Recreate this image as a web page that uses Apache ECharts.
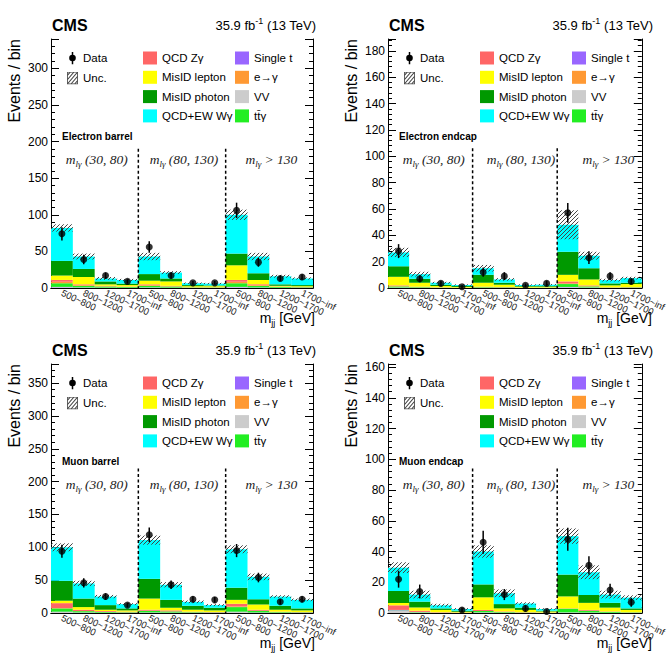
<!DOCTYPE html>
<html><head><meta charset="utf-8">
<script src="https://cdn.jsdelivr.net/npm/echarts@6/dist/echarts.min.js"></script>
<style>html,body{margin:0;padding:0;background:#fff}#c{width:669px;height:654px}</style>
</head><body><div id="c"></div>
<script>
// ---------- categories ----------
const categories = ['500~800','800~1200','1200~1700','1700~inf','500~800','800~1200','1200~1700','1700~inf','500~800','800~1200','1200~1700','1700~inf'];
const compNames = ['VV','Single t','tt\u0304\u03b3','e\u2192\u03b3','QCD Z\u03b3','MisID lepton','MisID photon','QCD+EW W\u03b3'];
const compColors = ['#cccccc','#9966ff','#22ee22','#ff9933','#ff6666','#ffff00','#009900','#00ffff'];
const mlgLabels = [' (30, 80)',' (80, 130)',' > 130'];

// ---------- Electron barrel ----------
const EB_VV   = [1,0.5,0.3,0.2,0.5,0.3,0.1,0.1,1,0.5,0.2,0.2];
const EB_ST   = [0.5,0.3,0.2,0.1,0.3,0.2,0.1,0.1,0.5,0.3,0.1,0.1];
const EB_TTG  = [5,2,1.5,1,2,1.5,0.5,0.5,5,2,1,0.7];
const EB_EG   = [2,1,0.5,0.3,1,0.5,0.1,0.1,2,1,0.3,0.2];
const EB_ZG   = [2.5,1.2,0.5,0.4,1.2,0.5,0.2,0.2,2.5,1.2,0.4,0.3];
const EB_MISL = [6,10,2,2,5,6,1.5,1.5,20,6,1,1];
const EB_MISP = [20,11,4,2,9,4,1.5,1,16,9,2,1.5];
const EB_WG   = [45,17,4,5,24,8,2.5,2.5,53,23,11,9];
const EB_UNC  = [5,4,2,1.5,5,2,1,1,7,5,2,1.5];
const EB_DATA = [74,39,17,9,56,17,7,7,106,35,13,15];
const EB_ERR  = [9,6.5,4,3,8,4,2.7,2.7,10.5,6,3.6,3.9];

// ---------- Electron endcap ----------
const EE_VV   = [0.3,0.1,0.05,0.05,0.1,0.1,0.05,0.05,0.6,0.3,0.05,0.1];
const EE_ST   = [0.1,0.05,0.05,0,0.05,0.05,0,0.05,0.2,0.1,0.05,0.05];
const EE_TTG  = [0.8,0.45,0.2,0.15,0.45,0.35,0.15,0.2,2.2,0.8,0.2,0.3];
const EE_EG   = [0.4,0.2,0.1,0.05,0.2,0.15,0.05,0.05,0.5,0.4,0.1,0.1];
const EE_ZG   = [0.4,0.2,0.1,0.05,0.2,0.15,0.05,0.05,1.5,0.4,0.1,0.15];
const EE_MISL = [6.5,3,1,0.5,3,1.7,0.7,0.6,5,4.5,1.5,2.3];
const EE_MISP = [8,3,1,0.7,6,1.5,0.5,0.5,17.5,8.5,1.5,1];
const EE_WG   = [10.5,3.5,1.5,0.8,5,2.5,0.8,1,20.5,9.5,2.5,3.5];
const EE_UNC  = [3.5,1.8,0.7,0.5,2.5,1,0.5,0.5,11,3,1,1];
const EE_DATA = [28,7,3.5,1,12,9,2,3.5,57,23,9,5];
const EE_ERR  = [5.3,2.6,1.9,1,3.5,3,1.4,1.9,7.5,4.8,3,2.2];

// ---------- Muon barrel ----------
const MB_VV   = [1.5,0.5,0.3,0.2,0.5,0.4,0.2,0.2,1.5,0.5,0.2,0.2];
const MB_ST   = [0.5,0.3,0.2,0.1,0.3,0.2,0.1,0.1,0.5,0.3,0.1,0.1];
const MB_TTG  = [5,2,1.2,0.8,2.5,1.8,0.9,0.6,7,2.5,1,0.7];
const MB_EG   = [0.5,0.2,0.1,0.1,0.2,0.1,0.1,0.1,1,0.2,0.1,0.1];
const MB_ZG   = [7.5,2,1.2,0.8,1.5,1.5,0.7,0.5,4,1.5,0.6,0.4];
const MB_MISL = [3.7,4,2,2,17,4,3,2.5,6,8,3,2.5];
const MB_MISP = [30.3,13,7,3,30,12,6,4,18.5,8,6,3];
const MB_WG   = [51,23,13,6.5,59,23,6,4,58.5,34,14,13];
const MB_UNC  = [6,4,2.5,1.5,7,4,2,1.5,6,5,2,2];
const MB_DATA = [94,46,25,12,119,43,21,20,95,54,17,21];
const MB_ERR  = [10,7,5,3.5,11,6.5,4.6,4.5,10,7.3,4,4.6];

// ---------- Muon endcap ----------
const ME_VV   = [1.5,0.3,0.1,0.05,0.3,0.15,0.05,0.05,0.3,0.2,0.1,0.05];
const ME_ST   = [0.3,0.1,0,0,0.1,0.05,0.05,0,0.1,0.1,0.05,0.05];
const ME_TTG  = [0.2,0.3,0.1,0.05,0.9,0.4,0.2,0.1,2.4,1.2,0.6,0.3];
const ME_EG   = [0,0,0,0,0,0,0,0,0,0,0,0];
const ME_ZG   = [3,0.8,0.3,0.2,0.7,0.4,0.2,0.15,0.2,0.5,0.25,0.1];
const ME_MISL = [1.5,2.1,1.5,0.5,8.2,2,1.5,0.7,7.8,4.6,2.5,1.5];
const ME_MISP = [7.8,3.8,1,0.7,8.4,2.8,1.5,0.5,14.2,5.1,3.1,1];
const ME_WG   = [15.2,4.6,2,1.1,21.4,7,2.7,1.1,25,14.8,5.4,7];
const ME_UNC  = [3.5,2.5,1,0.6,4,2.5,0.8,0.5,5,4.5,2.5,1.5];
const ME_DATA = [22,14,null,2,46,12,3,1,48,31,15,7];
const ME_ERR  = [5.5,4.5,0,1.5,7.5,3.6,2,1,7.5,6,4,3];

const panels = [
  {label:'Electron barrel', max:340, interval:50, dashTop:190, comps:[EB_VV,EB_ST,EB_TTG,EB_EG,EB_ZG,EB_MISL,EB_MISP,EB_WG], unc:EB_UNC, data:EB_DATA, err:EB_ERR, dx:0, dy:0},
  {label:'Electron endcap', max:189, interval:20, dashTop:106, comps:[EE_VV,EE_ST,EE_TTG,EE_EG,EE_ZG,EE_MISL,EE_MISP,EE_WG], unc:EE_UNC, data:EE_DATA, err:EE_ERR, dx:337, dy:0},
  {label:'Muon barrel', max:379, interval:50, dashTop:220, comps:[MB_VV,MB_ST,MB_TTG,MB_EG,MB_ZG,MB_MISL,MB_MISP,MB_WG], unc:MB_UNC, data:MB_DATA, err:MB_ERR, dx:0, dy:325},
  {label:'Muon endcap', max:162, interval:20, dashTop:94, comps:[ME_VV,ME_ST,ME_TTG,ME_EG,ME_ZG,ME_MISL,ME_MISP,ME_WG], unc:ME_UNC, data:ME_DATA, err:ME_ERR, dx:337, dy:325}
];

const SANS = 'Liberation Sans, Arial, sans-serif';
const SERIF = 'Liberation Serif, Times New Roman, serif';

function hatchRender(params, api){
  const i = api.value(0), lo = api.value(1), hi = api.value(2);
  const pTop = api.coord([i, hi]), pBot = api.coord([i, lo]);
  const w = api.size([1, 0])[0];
  const x0 = pTop[0] - w/2, x1 = pTop[0] + w/2, y0 = pTop[1], y1 = pBot[1];
  const sp = 4, children = [];
  const cmin = x0 + y0, cmax = x1 + y1;
  for (let c = Math.ceil(cmin/sp)*sp; c <= cmax; c += sp) {
    const xa = Math.max(x0, c - y1), xb = Math.min(x1, c - y0);
    if (xb > xa) children.push({type:'line', shape:{x1:xa, y1:c-xa, x2:xb, y2:c-xb}, style:{stroke:'#444', lineWidth:1}});
  }
  return {type:'group', children};
}
function errRender(params, api){
  const i = api.value(0);
  const a = api.coord([i, api.value(1)]), b = api.coord([i, api.value(2)]);
  return {type:'line', shape:{x1:a[0], y1:a[1], x2:b[0], y2:b[1]}, style:{stroke:'#000', lineWidth:1.5}};
}
function dashRender(params, api){
  const i = api.value(0);
  const w = api.size([1, 0])[0];
  const a = api.coord([i, api.value(1)]), b = api.coord([i, 0]);
  const x = a[0] - w/2;
  return {type:'line', shape:{x1:x, y1:a[1], x2:x, y2:b[1]}, style:{stroke:'#000', lineWidth:1.5, lineDash:[3,2.5]}};
}

const dataIcon = 'image://data:image/svg+xml;utf8,' + encodeURIComponent("<svg xmlns='http://www.w3.org/2000/svg' width='11' height='13'><line x1='5.5' y1='0' x2='5.5' y2='13' stroke='black' stroke-width='1.5'/><circle cx='5.5' cy='6.5' r='3.3' fill='black'/></svg>");
const uncIcon = 'image://data:image/svg+xml;utf8,' + encodeURIComponent("<svg xmlns='http://www.w3.org/2000/svg' width='12' height='12'><rect x='0.5' y='0.5' width='11' height='11' fill='white' stroke='#555'/><path d='M0.5 3.5L3.5 0.5M0.5 7.5L7.5 0.5M0.5 11.5L11.5 0.5M4.5 11.5L11.5 4.5M8.5 11.5L11.5 8.5' stroke='#444' stroke-width='1'/></svg>");

const option = {
  animation: false,
  backgroundColor: '#fff',
  textStyle: {fontFamily: SANS},
  grid: [], xAxis: [], yAxis: [], series: [], legend: [], graphic: []
};

panels.forEach((P, k) => {
  const L = 51 + P.dx, T = 39 + P.dy, W = 262, H = 249;
  option.grid.push({left: L, top: T, width: W, height: H});
  option.xAxis.push({
    gridIndex: k, type: 'category', data: categories, position: 'bottom', boundaryGap: true,
    axisLine: {lineStyle: {color: '#000', width: 1}},
    axisTick: {inside: true, length: 7, interval: 0, lineStyle: {color: '#000'}},
    axisLabel: {interval: 0, rotate: -25, fontSize: 9.5, color: '#222', margin: 4, fontFamily: SANS},
    splitLine: {show: false}
  });
  option.xAxis.push({
    gridIndex: k, type: 'category', data: categories, position: 'top', boundaryGap: true,
    axisLine: {lineStyle: {color: '#000', width: 1}},
    axisTick: {inside: true, length: 7, interval: 0, lineStyle: {color: '#000'}},
    axisLabel: {show: false}, splitLine: {show: false}
  });
  const yBase = {
    gridIndex: k, type: 'value', min: 0, max: P.max, interval: P.interval,
    axisLine: {show: true, lineStyle: {color: '#000', width: 1}},
    axisTick: {show: true, inside: true, length: 8, lineStyle: {color: '#000'}},
    minorTick: {show: true, splitNumber: 5, length: 4, lineStyle: {color: '#000'}},
    splitLine: {show: false}
  };
  option.yAxis.push(Object.assign({}, yBase, {position: 'left',
    axisLabel: {fontSize: 12, color: '#000', margin: 3, showMaxLabel: false, fontFamily: SANS,
      formatter: v => (v % P.interval === 0 ? String(v) : '')}}));
  option.yAxis.push(Object.assign({}, yBase, {position: 'right', axisLabel: {show: false}}));

  const xi = 2*k, yi = 2*k;
  P.comps.forEach((arr, c) => {
    option.series.push({
      type: 'bar', name: compNames[c], xAxisIndex: xi, yAxisIndex: yi, stack: 'st' + k,
      data: arr, barCategoryGap: '0%', barGap: '0%',
      itemStyle: {color: compColors[c]}, emphasis: {disabled: true}, z: 2
    });
  });
  const totals = categories.map((_, i) => P.comps.reduce((s, a) => s + a[i], 0));
  option.series.push({
    type: 'custom', name: 'Unc.', xAxisIndex: xi, yAxisIndex: yi, renderItem: hatchRender,
    encode: {x: 0, y: [1, 2]}, itemStyle: {color: '#555'},
    data: totals.map((t, i) => [i, Math.max(0, t - P.unc[i]), t + P.unc[i]]), z: 3, silent: true
  });
  option.series.push({
    type: 'custom', name: 'dash', xAxisIndex: xi, yAxisIndex: yi, renderItem: dashRender,
    encode: {x: 0, y: 1}, data: [[4, P.dashTop], [8, P.dashTop]], z: 4, silent: true
  });
  const pts = [], errs = [];
  P.data.forEach((v, i) => { if (v !== null) { pts.push([i, v]); errs.push([i, Math.max(0, v - P.err[i]), v + P.err[i]]); } });
  option.series.push({
    type: 'custom', name: 'Data', xAxisIndex: xi, yAxisIndex: yi, renderItem: errRender,
    encode: {x: 0, y: [1, 2]}, itemStyle: {color: '#000'}, data: errs, z: 5, silent: true
  });
  option.series.push({
    type: 'scatter', name: 'Data', xAxisIndex: xi, yAxisIndex: yi, data: pts,
    symbol: 'circle', symbolSize: 7, itemStyle: {color: '#000'}, z: 6, silent: true
  });

  // legends
  const lTop = 51.5 + P.dy;
  const lText = {fontSize: 11.5, color: '#000', fontFamily: SANS, lineHeight: 13};
  option.legend.push({orient: 'vertical', left: 67 + P.dx, top: lTop, padding: 0, itemGap: 7, itemWidth: 11, itemHeight: 13,
    selectedMode: false, textStyle: lText,
    data: [{name: 'Data', icon: dataIcon}, {name: 'Unc.', icon: uncIcon}]});
  option.legend.push({orient: 'vertical', left: 143 + P.dx, top: lTop, padding: 0, itemGap: 6.3, itemWidth: 14, itemHeight: 13,
    selectedMode: false, textStyle: lText, icon: 'rect',
    data: [compNames[4], compNames[5], compNames[6], compNames[7]]});
  option.legend.push({orient: 'vertical', left: 235 + P.dx, top: lTop, padding: 0, itemGap: 6.3, itemWidth: 14, itemHeight: 13,
    selectedMode: false, textStyle: lText, icon: 'rect',
    data: [compNames[1], compNames[3], compNames[0], compNames[2]]});

  // texts
  option.graphic.push({type: 'text', x: L + 1, y: 25 + P.dy, style: {text: 'CMS', fontSize: 16, fontWeight: 'bold', fontFamily: SANS, fill: '#000', align: 'left', verticalAlign: 'middle'}});
  option.graphic.push({type: 'text', x: L + W + 3, y: 25 + P.dy, style: {
    text: '{a|35.9 fb}{b|-1}{a| (13 TeV)}', align: 'right', verticalAlign: 'middle', fill: '#000',
    rich: {a: {fontSize: 13, fontFamily: SANS, lineHeight: 18, verticalAlign: 'middle'}, b: {fontSize: 9, fontFamily: SANS, lineHeight: 10, verticalAlign: 'top'}}}});
  option.graphic.push({type: 'text', x: 14 + P.dx, y: T, rotation: Math.PI/2, style: {text: 'Events / bin', fontSize: 16, fontFamily: SANS, fill: '#000', align: 'right', verticalAlign: 'middle'}});
  option.graphic.push({type: 'text', x: L + W + 2, y: T + H + 30, style: {
    text: '{a|m}{b|jj}{a| [GeV]}', align: 'right', verticalAlign: 'middle', fill: '#000',
    rich: {a: {fontSize: 14, fontFamily: SANS, lineHeight: 18, verticalAlign: 'middle'}, b: {fontSize: 9, fontFamily: SANS, lineHeight: 10, verticalAlign: 'bottom'}}}});
  option.graphic.push({type: 'text', x: L + 11, y: T + 97, style: {text: P.label, fontSize: 10, fontWeight: 'bold', fontFamily: SANS, fill: '#000', align: 'left', verticalAlign: 'middle'}});
  mlgLabels.forEach((s, g) => {
    option.graphic.push({type: 'text', x: L + W * (g*4 + 2) / 12 + 2, y: T + 120, style: {
      text: '{a|m}{b|l\u03b3}{a|' + s + '}', align: 'center', verticalAlign: 'middle', fill: '#222',
      rich: {a: {fontSize: 13.5, fontStyle: 'italic', fontFamily: SERIF, lineHeight: 18, verticalAlign: 'middle'},
             b: {fontSize: 9, fontStyle: 'italic', fontFamily: SERIF, lineHeight: 10, verticalAlign: 'bottom'}}}});
  });
});

const chart = echarts.init(document.getElementById('c'), null, {renderer: 'svg', width: 669, height: 654});
chart.setOption(option);
</script>
</body></html>
